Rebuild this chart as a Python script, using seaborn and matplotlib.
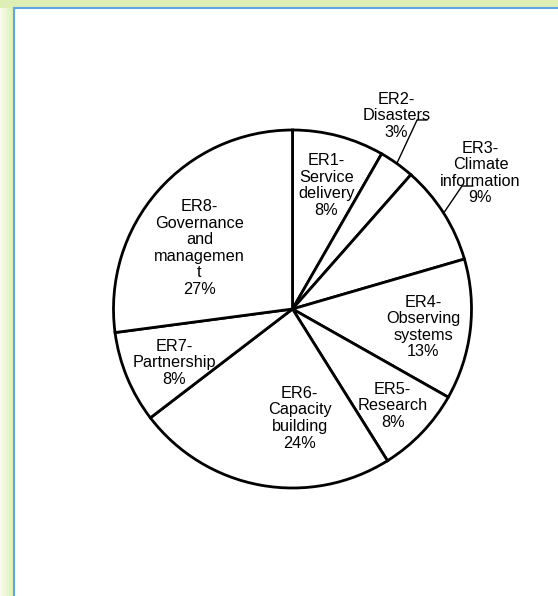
import matplotlib
matplotlib.use("Agg")
from matplotlib import pyplot as plt
from matplotlib.patches import Rectangle
import numpy as np
import seaborn as sns

sns.set_theme(style="white")
plt.rcParams['font.family'] = ['Liberation Sans', 'DejaVu Sans']

# data (shares, % of total)
categories = ["ER1-\nService\ndelivery", "ER2-\nDisasters", "ER3-\nClimate\ninformation",
              "ER4-\nObserving\nsystems", "ER5-\nResearch", "ER6-\nCapacity\nbuilding",
              "ER7-\nPartnership", "ER8-\nGovernance\nand\nmanagemen\nt"]
shares = [8.3, 3.2, 9.0, 12.7, 7.9, 23.5, 8.3, 27.1]
pct_labels = ["8%", "3%", "9%", "13%", "8%", "24%", "8%", "27%"]

# label placement in pie units (radius = 1)
label_xy = [(0.19, 0.69), (0.58, 1.08), (1.05, 0.76), (0.73, -0.10),
            (0.56, -0.54), (0.04, -0.61), (-0.66, -0.30), (-0.52, 0.34)]
# leader elbows for the two labels sitting outside the pie
leaders = {1: [(0.696, 1.056), (0.752, 1.056)],
           2: [(0.947, 0.687), (1.008, 0.687)]}

W, H, dpi = 558, 596, 100
fig = plt.figure(figsize=(W / dpi, H / dpi), dpi=dpi, facecolor="#ddefb4")

# soft gradient on the left border
pale = np.array([0.97, 0.99, 0.93])
green = np.array([0.86, 0.94, 0.71])
t = np.linspace(0, 1, 14)[None, :, None]
grad = np.repeat(pale + (green - pale) * t, H - 8, axis=0)
fig.figimage(grad, xo=0, yo=0, zorder=-20)

# white panel with thin blue frame (left/top visible)
fig.patches.append(Rectangle((14 / W, -0.1), 1.2, 1.1 - 8 / H, transform=fig.transFigure,
                             facecolor="white", edgecolor="#5ea6e6", linewidth=1.5, zorder=-10))

ax = fig.add_axes([0, 0, 1, 1])
ax.patch.set_alpha(0)
ax.set_zorder(5)

wedges, _ = ax.pie(shares, startangle=90, counterclock=False, colors=["white"] * len(shares),
                   wedgeprops=dict(edgecolor="black", linewidth=2.0))

cx, cy, R = 292.5, 309, 179.0
ax.set_xlim(-cx / R, (W - cx) / R)
ax.set_ylim(-(H - cy) / R, cy / R)
ax.set_aspect("auto")
ax.axis("off")

for i, (name, pct) in enumerate(zip(categories, pct_labels)):
    x, y = label_xy[i]
    ax.text(x, y, name + "\n" + pct, ha="center", va="center", fontsize=11.7,
            linespacing=1.13, color="black")

for i, pts in leaders.items():
    w = wedges[i]
    mid = np.deg2rad((w.theta1 + w.theta2) / 2)
    xs = [np.cos(mid)] + [p[0] for p in pts]
    ys = [np.sin(mid)] + [p[1] for p in pts]
    ax.plot(xs, ys, color="black", linewidth=1.0)

fig.savefig("out.png", dpi=dpi, facecolor=fig.get_facecolor())
